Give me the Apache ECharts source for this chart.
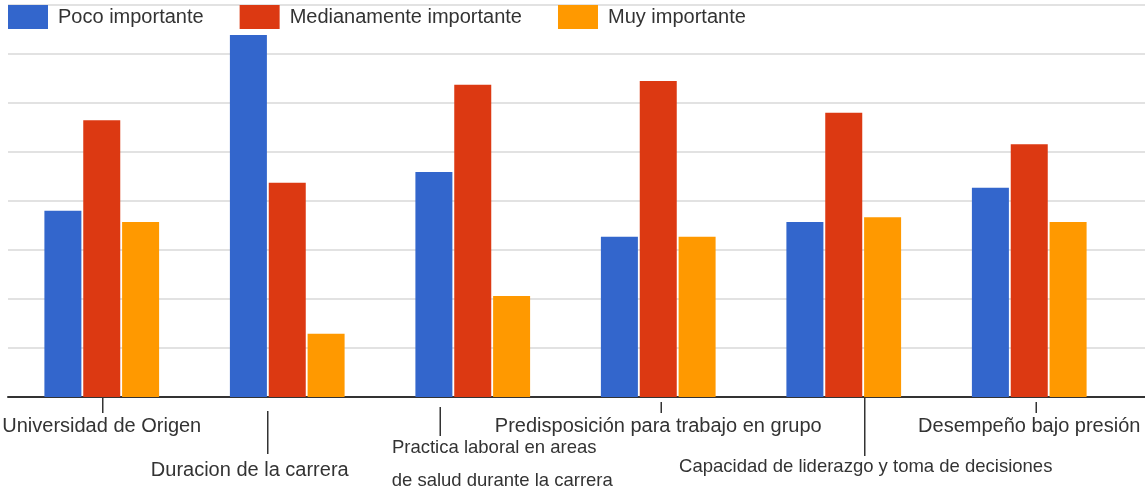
<!DOCTYPE html>
<html>
<head>
<meta charset="utf-8">
<script src="https://cdn.jsdelivr.net/npm/echarts@6/dist/echarts.min.js"></script>
<style>
  html, body { margin: 0; padding: 0; background: #fff; }
  #chart { width: 1145px; height: 490px; }
</style>
</head>
<body>
<div id="chart"></div>
<script>
// ---- data ----
const categories = [
  "Universidad de Origen",
  "Duracion de la carrera",
  "Practica laboral en areas\nde salud durante la carrera",
  "Predisposición para trabajo en grupo",
  "Capacidad de liderazgo y toma de decisiones",
  "Desempeño bajo presión"
];
const seriesNames = ["Poco importante", "Medianamente importante", "Muy importante"];
const pocoImportante = [38, 73.9, 45.9, 32.7, 35.7, 42.7];
const medianamenteImportante = [56.5, 43.7, 63.7, 64.5, 58, 51.6];
const muyImportante = [35.7, 12.9, 20.6, 32.7, 36.7, 35.7];
const yTicks = [0, 10, 20, 30, 40, 50, 60, 70, 80];

// ---- styles ----
const colors = ["#3366CC", "#DC3912", "#FF9900"];
const FONT = "'Liberation Sans', Arial, Helvetica, sans-serif";
const TEXT = "#333333";
// label style key per category (staggered rows, as in the reference)
const labelStyleKey = ["r1", "r2", "prac", "r1", "capa", "r1"];
// leader tick: [x offset from category centre, start below axis, end below axis]
const leaderTicks = [[1, 0, 16], [-19.5, 14, 57], [-32.5, 10, 39], [3, 5, 16], [21, 0, 59], [7, 5, 16]];

const chart = echarts.init(document.getElementById('chart'), null, { renderer: 'canvas' });

function barSeries(name, data, color) {
  return {
    name: name, type: 'bar', xAxisIndex: 0, yAxisIndex: 0,
    data: data, barWidth: 37, barGap: '5%',
    itemStyle: { color: color }, z: 3
  };
}

const option = {
  backgroundColor: '#ffffff',
  animation: false,
  textStyle: { fontFamily: FONT },
  legend: {
    left: 8, top: 5, padding: 0,
    itemWidth: 40, itemHeight: 24, itemGap: 36,
    icon: 'rect',
    data: seriesNames,
    textStyle: { fontFamily: FONT, fontSize: 20, color: TEXT, padding: [0, 0, 0, 5] }
  },
  grid: [
    { left: 9, right: 23, top: 5, bottom: 93, outerBoundsMode: 'none', containLabel: false },
    { left: 8, right: 0, top: 5, bottom: 93, outerBoundsMode: 'none', containLabel: false }
  ],
  xAxis: [
    {
      type: 'category', gridIndex: 0, data: categories,
      axisLine: { show: false }, axisTick: { show: false }, splitLine: { show: false },
      axisLabel: {
        interval: 0, margin: 14, hideOverlap: false,
        fontFamily: FONT, color: TEXT,
        formatter: function (value, idx) {
          const key = labelStyleKey[idx];
          if (key === 'prac') {
            const parts = value.split('\n');
            return '{sp| }\n{p1|' + parts[0] + '}\n{p2|' + parts[1] + '}';
          }
          return '{' + key + '|' + value + '}';
        },
        rich: {
          r1: { fontFamily: FONT, fontSize: 20, color: TEXT, lineHeight: 30 },
          r2: { fontFamily: FONT, fontSize: 20, color: TEXT, lineHeight: 118, padding: [0, 75, 0, 0] },
          sp: { fontFamily: FONT, fontSize: 10, color: TEXT, lineHeight: 20 },
          p1: { fontFamily: FONT, fontSize: 18.5, color: TEXT, lineHeight: 33, padding: [0, 0, 0, 43] },
          p2: { fontFamily: FONT, fontSize: 18.5, color: TEXT, lineHeight: 33, padding: [0, 0, 0, 59] },
          capa: { fontFamily: FONT, fontSize: 18.5, color: TEXT, lineHeight: 112, padding: [0, 0, 0, 44] }
        }
      }
    },
    {
      type: 'value', gridIndex: 1, min: 0, max: 1,
      axisLine: { show: true, lineStyle: { color: '#333333', width: 2 } },
      axisTick: { show: false }, axisLabel: { show: false }, splitLine: { show: false }
    }
  ],
  yAxis: [
    {
      type: 'value', gridIndex: 0, min: yTicks[0], max: yTicks[yTicks.length - 1], interval: 10,
      show: false, splitLine: { show: false }
    },
    {
      type: 'value', gridIndex: 1, min: yTicks[0], max: yTicks[yTicks.length - 1], interval: 10,
      axisLine: { show: false }, axisTick: { show: false }, axisLabel: { show: false },
      splitLine: { show: true, lineStyle: { color: '#e2e2e2', width: 2 } }
    }
  ],
  series: [
    barSeries(seriesNames[0], pocoImportante, colors[0]),
    barSeries(seriesNames[1], medianamenteImportante, colors[1]),
    barSeries(seriesNames[2], muyImportante, colors[2]),
    {
      type: 'custom', xAxisIndex: 0, yAxisIndex: 0, silent: true, z: 5,
      data: categories.map(function (c, i) { return [i, 0]; }),
      renderItem: function (params, api) {
        const i = api.value(0);
        const p = api.coord([i, 0]);
        const t = leaderTicks[i];
        return {
          type: 'line',
          shape: { x1: p[0] + t[0], y1: p[1] + t[1], x2: p[0] + t[0], y2: p[1] + t[2] },
          style: { stroke: '#333333', lineWidth: 1.5 }
        };
      }
    }
  ]
};
chart.setOption(option);
</script>
</body>
</html>
